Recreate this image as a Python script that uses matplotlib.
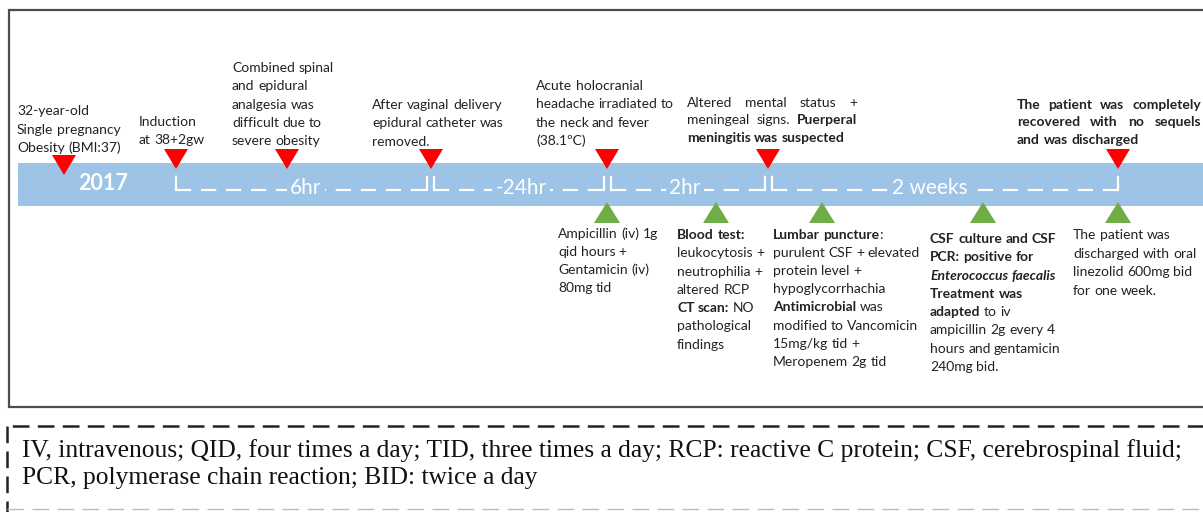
import re
import matplotlib.pyplot as plt
from matplotlib.patches import Rectangle, Polygon

plt.rcParams['lines.scale_dashes'] = False

# ---- data ----
year_label = '2017'
red_events_x = [64, 176, 287, 431, 607, 768, 1118]
green_events_x = [607, 716, 822, 983, 1118]
bracket_x = [176, 430, 607, 768, 1118]
interval_labels = ['6hr', '-24hr', '2hr', '2 weeks']

upper_notes = [
    ['32-year-old', 'Single pregnancy', 'Obesity (BMI:37)'],
    ['Induction', 'at 38+2gw'],
    ['Combined spinal', 'and epidural', 'analgesia was', 'difficult due to', 'severe obesity'],
    ['After vaginal delivery', 'epidural catheter was', 'removed.'],
    ['Acute holocranial', 'headache irradiated to', 'the neck and fever', '(38.1ºC)'],
    ['Altered mental status +', 'meningeal signs. **Puerperal**', '**meningitis was suspected**'],
    ['**The patient was completely**', '**recovered with no sequels**', '**and was discharged**'],
]
lower_notes = [
    ['Ampicillin (iv) 1g', 'qid hours +', 'Gentamicin (iv)', '80mg tid'],
    ['**Blood test:**', 'leukocytosis +', 'neutrophilia +', 'altered RCP',
     '**CT scan:** NO', 'pathological', 'findings'],
    ['**Lumbar puncture**:', 'purulent CSF + elevated', 'protein level +', 'hypoglycorrhachia',
     '**Antimicrobial** was', 'modified to Vancomicin', '15mg/kg tid +', 'Meropenem 2g tid'],
    ['**CSF culture and CSF**', '**PCR: positive for**', '**~Enterococcus faecalis~**',
     '**Treatment was**', '**adapted** to iv', 'ampicillin 2g every 4',
     'hours and gentamicin', '240mg bid.'],
    ['The patient was', 'discharged with oral', 'linezolid 600mg bid', 'for one week.'],
]
footer_lines = [
    'IV, intravenous; QID, four times a day; TID, three times a day; RCP: reactive C protein; CSF, cerebrospinal fluid;',
    'PCR, polymerase chain reaction; BID: twice a day',
]

# ---- layout (pixels) ----
# (left x, first baseline, line spacing, justify width or None, number of justified lines)
upper_layout = [
    (17, 115, 18.5, None, 0),
    (139, 126, 18.5, None, 0),
    (232, 72, 18.3, None, 0),
    (372, 109, 18.3, None, 0),
    (536, 90, 18.3, None, 0),
    (687, 107, 17.5, 170, 2),
    (1017, 109, 17.5, 184, 2),
]
lower_layout = [
    (558, 238, 18.0),
    (677, 239, 18.3),
    (773, 239, 18.1),
    (930, 243, 18.3),
    (1073, 239, 18.7),
]
label_centers = [306, 521, 685, 930]

FONT = 'Lato'
NOTE_SIZE = 10.0
BAND_BLUE = '#9DC3E6'
RED = '#FF0000'
GREEN = '#70AD47'

fig = plt.figure(figsize=(12.03, 5.12), dpi=100)
ax = fig.add_axes([0, 0, 1, 1])
ax.set_xlim(0, 1203)
ax.set_ylim(512, 0)
ax.axis('off')
renderer = fig.canvas.get_renderer()


def text_width(s, **kw):
    t = ax.text(0, 0, s, **kw)
    w = t.get_window_extent(renderer).width
    t.remove()
    return w


def parse_words(line):
    # returns list of words, each a list of (text, bold, italic) runs
    bold, ital = False, False
    words, cur, buf = [], [], ''
    for tok in re.split(r'(\*\*|~| )', line):
        if tok == '**' or tok == '~' or tok == ' ':
            if buf:
                cur.append((buf, bold, ital))
                buf = ''
            if tok == '**':
                bold = not bold
            elif tok == '~':
                ital = not ital
            elif cur:
                words.append(cur)
                cur = []
        else:
            buf += tok
    if buf:
        cur.append((buf, bold, ital))
    if cur:
        words.append(cur)
    return words


def style(b, i, size):
    return dict(fontsize=size, family=FONT, fontweight='bold' if b else 'normal',
                fontstyle='italic' if i else 'normal')


def draw_line(x, y, line, size, color='#222222', justify=None):
    words = parse_words(line)
    widths = [sum(text_width(r[0], **style(r[1], r[2], size)) for r in w) for w in words]
    space = text_width('a a', **style(False, False, size)) - text_width('aa', **style(False, False, size))
    if justify and len(words) > 1:
        space = (justify - sum(widths)) / (len(words) - 1)
    for w, wd in zip(words, widths):
        xx = x
        for txt, b, i in w:
            ax.text(xx, y, txt, ha='left', va='baseline', color=color, **style(b, i, size))
            xx += text_width(txt, **style(b, i, size))
        x += wd + space


# outer solid frame (open on the right, cut by the image edge)
ax.plot([1210, 9, 9, 1210], [10, 10, 407, 407], color='#4D4D4D', lw=1.6, solid_joinstyle='miter')

# timeline band
ax.add_patch(Rectangle((18, 163), 1190, 43, facecolor=BAND_BLUE, edgecolor='none'))
ax.text(103, 184, year_label, color='white', fontsize=15.5, fontweight='bold', family=FONT,
        ha='center', va='center')

# dashed timeline with interval labels
line_y = 190
for k, lab in enumerate(interval_labels):
    cx = label_centers[k]
    lw_px = text_width(lab, fontsize=15, family=FONT)
    ax.text(cx, line_y + 4, lab, color='white', fontsize=15, family=FONT, ha='center', va='baseline')
    x0 = bracket_x[k] + (4 if k in (1, 2, 3) else 0)
    x1 = bracket_x[k + 1] - (4 if k + 1 in (1, 2, 3) else 0)
    ax.plot([x0, cx - lw_px / 2 - 3], [line_y, line_y], color='white', lw=1.6, dashes=(11, 7))
    ax.plot([x1, cx + lw_px / 2 + 3], [line_y, line_y], color='white', lw=1.6, dashes=(11, 7))
for k, bx in enumerate(bracket_x):
    offs = [0] if k in (0, len(bracket_x) - 1) else [-3.5, 3.5]
    for o in offs:
        ax.plot([bx + o, bx + o], [177, line_y], color='white', lw=1.6)

# markers
for i, ex in enumerate(red_events_x):
    top = 155 if i == 0 else 149
    ax.add_patch(Polygon([(ex - 12, top), (ex + 12, top), (ex, top + 20)], closed=True,
                         facecolor=RED, edgecolor='none', zorder=3))
for ex in green_events_x:
    ax.add_patch(Polygon([(ex - 13, 223), (ex + 13, 223), (ex, 202)], closed=True,
                         facecolor=GREEN, edgecolor='none', zorder=3))

# annotations
for lines, (lx, by, sp, jw, nj) in zip(upper_notes, upper_layout):
    for j, ln in enumerate(lines):
        draw_line(lx, by + j * sp, ln, NOTE_SIZE, justify=jw if j < nj else None)
for lines, (lx, by, sp) in zip(lower_notes, lower_layout):
    for j, ln in enumerate(lines):
        draw_line(lx, by + j * sp, ln, NOTE_SIZE)

# footer box (dashed, open on the right)
ax.plot([1210, 7], [426, 426], color='#222222', lw=1.8, dashes=(12, 6))
ax.plot([7, 7], [426, 512], color='#222222', lw=1.8, dashes=(12, 6))
ax.plot([7, 1210], [509, 509], color='#bbbbbb', lw=1.0, dashes=(12, 6))
ref_w = text_width(footer_lines[0], fontsize=14, family='Liberation Serif')
foot_size = 14 * 1163 / ref_w
for j, ln in enumerate(footer_lines):
    ax.text(22, 457 + j * 27, ln, family='Liberation Serif', fontsize=foot_size,
            color='#111111', ha='left', va='baseline')

fig.savefig('out.png', dpi=100, facecolor='white')
